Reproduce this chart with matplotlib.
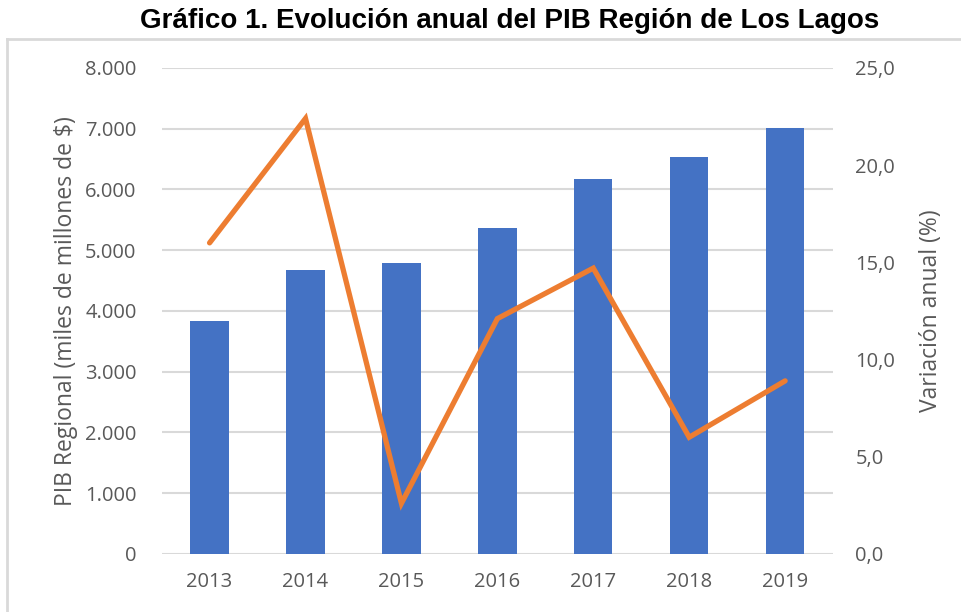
import matplotlib
matplotlib.use("Agg")
import matplotlib.pyplot as plt
from matplotlib.lines import Line2D
from matplotlib.ticker import FuncFormatter


years = ["2013", "2014", "2015", "2016", "2017", "2018", "2019"]
pib = [3835, 4675, 4790, 5366, 6173, 6535, 7012]
variacion = [16.0, 22.4, 2.6, 12.1, 14.7, 6.0, 8.9]

BAR = "#4472c4"
LINE = "#ed7d31"
GRID = "#d9d9d9"
TXT = "#595959"


def miles(v, _):
    return f"{int(v):,}".replace(",", ".")


def coma(v, _):
    return f"{v:.1f}".replace(".", ",")


def main() -> None:
    plt.rcParams["font.family"] = ["Open Sans", "DejaVu Sans"]

    fig = plt.figure(figsize=(9.62, 6.12), dpi=100)
    ax = fig.add_axes([0.168, 0.095, 0.698, 0.794])
    x = range(len(years))

    ax.bar(x, pib, width=0.4, color=BAR, zorder=2)
    ax.set_ylim(0, 8000)
    ax.set_xlim(-0.5, len(years) - 0.5)
    ax.set_yticks(range(0, 8001, 1000))
    ax.yaxis.set_major_formatter(FuncFormatter(miles))
    ax.set_xticks(list(x))
    ax.set_xticklabels(years)
    ax.grid(axis="y", color=GRID, linewidth=1.5, zorder=0)
    ax.set_axisbelow(True)
    ax.tick_params(length=0, labelsize=14.5, colors=TXT)
    ax.tick_params(axis="y", pad=18)
    ax.tick_params(axis="x", pad=13)
    ax.set_ylabel("PIB Regional (miles de millones de $)", fontsize=16.5, color=TXT, labelpad=5)

    ax2 = ax.twinx()
    ax2.plot(x, variacion, color=LINE, linewidth=3.8, solid_capstyle="round",
             solid_joinstyle="miter", zorder=3)
    ax2.set_ylim(0, 25)
    ax2.set_yticks([0, 5, 10, 15, 20, 25])
    ax2.yaxis.set_major_formatter(FuncFormatter(coma))
    ax2.tick_params(length=0, labelsize=14.5, colors=TXT, pad=16)
    ax2.set_ylabel("Variación anual (%)", fontsize=16.5, color=TXT, labelpad=17)

    for a in (ax, ax2):
        for spine in a.spines.values():
            spine.set_visible(False)

    fig.text(0.53, 0.965, "Gráfico 1. Evolución anual del PIB Región de Los Lagos",
             ha="center", va="center", fontsize=20, weight="bold",
             family="Liberation Sans")

    # borde gris del cuadro del gráfico
    fig.add_artist(Line2D([0.007, 0.007], [0.0, 0.936], color=GRID, linewidth=2))
    fig.add_artist(Line2D([0.007, 1.0], [0.936, 0.936], color=GRID, linewidth=2))

    fig.savefig("out.png", dpi=100)


if __name__ == "__main__":
    main()
